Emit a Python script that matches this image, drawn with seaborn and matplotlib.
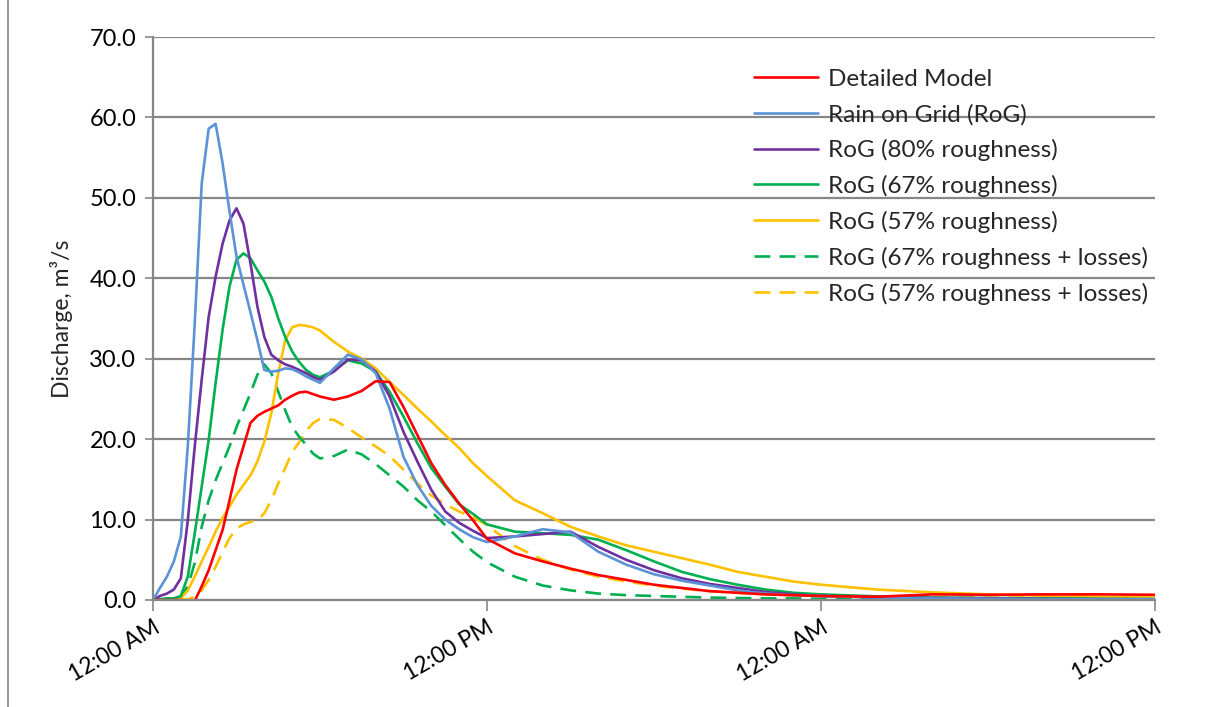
import pandas as pd
import numpy as np
import matplotlib
matplotlib.use("Agg")
import matplotlib.pyplot as plt
import matplotlib.dates as mdates
from matplotlib.lines import Line2D
import seaborn as sns

# Hours since start of event
hours = [0, 0.25, 0.5, 0.75, 1, 1.25, 1.5, 1.75, 2, 2.25, 2.5, 2.75, 3, 3.25, 3.5, 3.75,
         4, 4.25, 4.5, 4.75, 5, 5.25, 5.5, 5.75, 6,
         6.5, 7, 7.5, 8, 8.5, 9, 9.5, 10, 10.5, 11, 11.5, 12,
         13, 14, 15, 16, 17, 18, 19, 20, 21, 22, 23, 24,
         26, 28, 30, 32, 34, 36]

detailed = [0, 0, 0, 0, 0, -0.1, -0.1, 1.7, 3.7, 6.2, 8.7, 12.4, 16.2, 19.1, 22.0, 22.9,
            23.4, 23.8, 24.2, 24.9, 25.4, 25.8, 25.9, 25.6, 25.3,
            24.9, 25.3, 26.0, 27.2, 27.1, 24.0, 20.5, 17.0, 14.3, 12.0, 9.9, 7.6,
            5.8, 4.8, 3.9, 3.1, 2.5, 1.9, 1.5, 1.1, 0.9, 0.7, 0.6, 0.5,
            0.4, 0.7, 0.65, 0.7, 0.7, 0.65]

rog = [0, 1.5, 2.9, 4.8, 7.9, 19.1, 34.4, 51.8, 58.6, 59.2, 54.3, 48.3, 42.7, 39.2, 35.8, 32.3,
       28.6, 28.4, 28.5, 28.8, 28.7, 28.3, 27.8, 27.4, 27.0,
       28.8, 30.5, 29.9, 28.2, 23.8, 17.8, 14.3, 11.7, 10.0, 8.8, 7.8, 7.2,
       7.9, 8.8, 8.4, 6.0, 4.4, 3.2, 2.4, 1.8, 1.2, 0.8, 0.6, 0.5,
       0.3, 0.2, 0.15, 0.1, 0.1, 0.1]

rog_80 = [0, 0.5, 0.8, 1.3, 2.7, 9.9, 19.1, 27.4, 35.2, 40.2, 44.3, 47.2, 48.7, 46.8, 41.9, 36.5,
          32.7, 30.5, 29.8, 29.3, 29.0, 28.6, 28.2, 27.7, 27.4,
          28.4, 29.9, 29.8, 28.4, 25.3, 20.9, 17.2, 13.7, 11.0, 9.6, 8.6, 7.7,
          7.9, 8.2, 8.5, 6.6, 5.0, 3.7, 2.7, 2.0, 1.5, 1.0, 0.7, 0.5,
          0.35, 0.25, 0.2, 0.15, 0.1, 0.1]

rog_67 = [0, 0.1, 0.2, 0.2, 0.5, 2.9, 8.3, 14.1, 19.9, 27.0, 33.6, 39.0, 42.3, 43.1, 42.5, 41.0,
          39.6, 37.7, 35.0, 32.7, 30.9, 29.6, 28.6, 28.0, 27.7,
          28.5, 29.8, 29.4, 28.4, 25.9, 22.8, 19.5, 16.4, 14.1, 11.9, 10.7, 9.4,
          8.5, 8.3, 8.1, 7.5, 6.2, 4.8, 3.5, 2.6, 1.9, 1.3, 0.9, 0.7,
          0.45, 0.3, 0.25, 0.2, 0.15, 0.1]

rog_57 = [0, 0, 0.05, 0.1, 0.2, 1.2, 2.9, 4.8, 6.6, 8.5, 10.2, 11.6, 13.1, 14.3, 15.5, 17.2,
          19.7, 23.2, 28.2, 32.3, 33.9, 34.2, 34.1, 33.9, 33.5,
          32.1, 30.9, 30.0, 28.8, 27.1, 25.5, 23.8, 22.2, 20.5, 18.9, 17.0, 15.4,
          12.4, 10.8, 9.1, 7.9, 6.8, 6.0, 5.2, 4.4, 3.5, 2.9, 2.3, 1.9,
          1.3, 0.95, 0.7, 0.55, 0.4, 0.3]

rog_67_loss = [0, 0, 0, 0.05, 0.3, 1.7, 4.6, 9.1, 12.4, 14.9, 17.0, 19.1, 21.5, 23.6, 25.7, 28.0,
               29.3, 28.2, 25.9, 23.6, 21.5, 20.3, 19.3, 18.2, 17.6,
               17.9, 18.7, 18.1, 16.9, 15.5, 14.1, 12.4, 11.0, 9.3, 7.6, 6.0, 4.7,
               2.9, 1.8, 1.2, 0.8, 0.6, 0.5, 0.4, 0.3, 0.25, 0.2, 0.2, 0.15,
               0.1, 0.1, 0.1, 0.05, 0.05, 0.05]

rog_57_loss = [0, 0, 0, 0, 0, 0.1, 0.4, 1.2, 2.5, 4.1, 6.0, 7.7, 8.9, 9.4, 9.7, 9.9,
               10.8, 12.4, 14.5, 16.4, 18.4, 19.6, 21.0, 22.0, 22.5,
               22.4, 21.4, 20.2, 19.1, 17.9, 16.2, 14.5, 13.0, 11.9, 11.0, 10.3, 9.3,
               6.7, 5.0, 3.8, 2.9, 2.3, 1.8, 1.4, 1.1, 0.9, 0.7, 0.6, 0.5,
               0.4, 0.35, 0.3, 0.3, 0.25, 0.2]

labels = ["Detailed Model", "Rain on Grid (RoG)", "RoG (80% roughness)", "RoG (67% roughness)",
          "RoG (57% roughness)", "RoG (67% roughness + losses)", "RoG (57% roughness + losses)"]
colors = ["#FF0000", "#5B93D6", "#7030A0", "#00B050", "#FFC000", "#00B050", "#FFC000"]
dashed = [False, False, False, False, False, True, True]
series = [detailed, rog, rog_80, rog_67, rog_57, rog_67_loss, rog_57_loss]

start = pd.Timestamp("2011-01-01 00:00")
times = start + pd.to_timedelta(hours, unit="h")

sns.set_theme(style="white")
plt.rcParams["font.family"] = ["Lato", "DejaVu Sans"]

fig = plt.figure(figsize=(12.08, 7.07), dpi=100)
ax = fig.add_axes([153 / 1208, 1 - 600 / 707, 1002 / 1208, 563 / 707])

# draw in reverse so the detailed model ends up on top
for name, vals, col, dsh in zip(labels[::-1], series[::-1], colors[::-1], dashed[::-1]):
    ls = (0, (6, 3.5)) if dsh else "-"
    sns.lineplot(x=times, y=vals, ax=ax, color=col, linewidth=1.9, linestyle=ls, label=name,
                 solid_joinstyle="round", dash_joinstyle="round")

ax.set_xlim(start, start + pd.Timedelta(hours=36))
ax.set_ylim(0, 70)
ax.set_yticks(np.arange(0, 71, 10))
ax.yaxis.set_major_formatter(plt.FormatStrFormatter("%.1f"))
ax.xaxis.set_major_locator(mdates.HourLocator(byhour=[0, 12]))
ax.xaxis.set_major_formatter(mdates.DateFormatter("%I:%M %p"))

ax.grid(axis="y", color="#878787", linewidth=1.6)
ax.set_axisbelow(True)
for s in ["top", "right"]:
    ax.spines[s].set_visible(False)
for s in ["left", "bottom"]:
    ax.spines[s].set_color("#878787")
    ax.spines[s].set_linewidth(1.6)

ax.tick_params(axis="y", left=True, length=6, width=1.2, color="#878787",
               labelsize=17, labelcolor="black", pad=6)
ax.tick_params(axis="x", bottom=True, length=8, width=1.2, color="#878787",
               labelsize=16.5, labelcolor="black", pad=4)
plt.setp(ax.get_xticklabels(), rotation=30, ha="right", rotation_mode="anchor")

ax.set_xlabel("")
ax.set_ylabel("Discharge, m\u00b3/s", fontsize=16.5, labelpad=12)

handles, lbls = ax.get_legend_handles_labels()
ax.legend(handles[::-1], lbls[::-1], loc="upper left",
          bbox_to_anchor=(744 / 1208, 1 - 59 / 707), bbox_transform=fig.transFigure,
          frameon=False, fontsize=17.5, handlelength=2.65, handletextpad=0.42,
          labelspacing=0.57, borderaxespad=0)

# outer chart border on the left
fig.add_artist(Line2D([8 / 1208, 8 / 1208], [0, 1], transform=fig.transFigure,
                      color="#878787", linewidth=1.2))

fig.savefig("out.png", dpi=100)
